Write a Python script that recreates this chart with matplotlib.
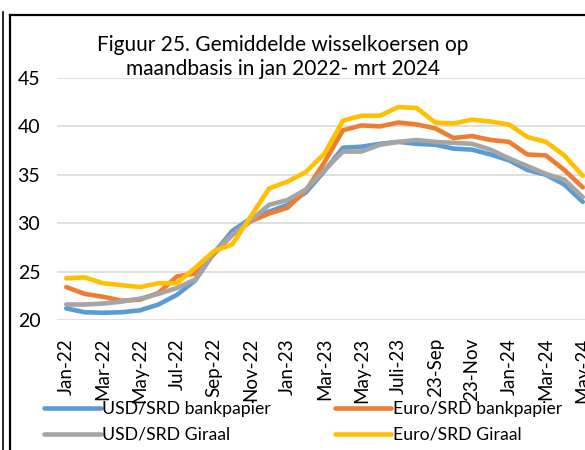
import matplotlib
matplotlib.use("Agg")
import matplotlib.pyplot as plt
from matplotlib.lines import Line2D

plt.rcParams['font.family'] = ['Lato', 'DejaVu Sans']

# maanden jan 2022 - mei 2024
months = ["Jan-22", "Feb-22", "Mar-22", "Apr-22", "May-22", "Jun-22", "Jul-22", "Aug-22",
          "Sep-22", "Oct-22", "Nov-22", "Dec-22", "Jan-23", "Feb-23", "Mar-23", "Apr-23",
          "May-23", "Jun-23", "Juli-23", "Aug-23", "23-Sep", "23-Oct", "23-Nov", "23-Dec",
          "Jan-24", "Feb-24", "Mar-24", "Apr-24", "May-24"]

usd_bank = [21.2, 20.8, 20.75, 20.8, 21.0, 21.6, 22.6, 24.1, 26.9, 29.2, 30.5, 31.2, 31.9, 33.2,
            35.4, 37.8, 37.9, 38.2, 38.4, 38.2, 38.1, 37.7, 37.6, 37.1, 36.5, 35.5, 35.0, 34.0, 32.2]
euro_bank = [23.4, 22.7, 22.4, 22.0, 22.1, 22.8, 24.5, 24.8, 26.8, 28.8, 30.2, 31.0, 31.6, 33.4,
             36.3, 39.6, 40.1, 40.0, 40.4, 40.2, 39.8, 38.8, 39.0, 38.6, 38.4, 37.1, 37.0, 35.5, 33.7]
usd_giro = [21.6, 21.6, 21.7, 21.9, 22.2, 22.7, 23.3, 24.2, 27.0, 28.8, 30.3, 31.9, 32.4, 33.5,
            35.5, 37.4, 37.4, 38.1, 38.4, 38.6, 38.4, 38.3, 38.2, 37.6, 36.7, 35.9, 35.1, 34.5, 32.7]
euro_giro = [24.3, 24.4, 23.8, 23.6, 23.4, 23.8, 23.8, 25.4, 27.1, 27.8, 30.7, 33.6, 34.3, 35.3,
             37.2, 40.6, 41.1, 41.1, 42.0, 41.9, 40.4, 40.3, 40.7, 40.5, 40.2, 38.9, 38.4, 37.0, 34.9]

W, H = 585, 450
fig = plt.figure(figsize=(W / 100, H / 100), dpi=100)

# plot area (in pixels), rechterkant valt buiten beeld
left, right, top, bottom = 57, 592, 78, 320
ax = fig.add_axes([left / W, 1 - bottom / H, (right - left) / W, (bottom - top) / H])

x = list(range(len(months)))
lw = 3.3
l1, = ax.plot(x, usd_bank, color="#5B9BD5", lw=lw, label="USD/SRD bankpapier", solid_capstyle="round")
l2, = ax.plot(x, euro_bank, color="#ED7D31", lw=lw, label="Euro/SRD bankpapier", solid_capstyle="round")
l3, = ax.plot(x, usd_giro, color="#A5A5A5", lw=lw, label="USD/SRD Giraal", solid_capstyle="round")
l4, = ax.plot(x, euro_giro, color="#FFC000", lw=lw, label="Euro/SRD Giraal", solid_capstyle="round")

ax.set_xlim(-0.5, len(months) - 0.5)
ax.set_ylim(20, 45)
ax.set_yticks([20, 25, 30, 35, 40, 45])
ax.yaxis.grid(True, color="#D9D9D9", lw=1.2)
ax.set_axisbelow(True)
for s in ax.spines.values():
    s.set_visible(False)
ax.tick_params(axis="both", length=0)
ax.tick_params(axis="y", labelsize=14, pad=12)
ax.set_xticks(x[::2])
ax.set_xticklabels(months[::2], rotation=90, fontsize=13.5)
ax.tick_params(axis="x", pad=13)

fig.text(283 / W, 1 - 57 / H, "Figuur 25. Gemiddelde wisselkoersen op\nmaandbasis in jan 2022- mrt 2024",
         ha="center", va="center", fontsize=15, linespacing=1.3)

# volgorde zodat de rijen kloppen
fig.legend([l1, l3, l2, l4], [l.get_label() for l in (l1, l3, l2, l4)],
           loc="upper left", bbox_to_anchor=(37 / W, 1 - 394 / H), ncol=2, frameon=False,
           fontsize=12.7, handlelength=3.2, handletextpad=0.1, columnspacing=3.6,
           labelspacing=0.55, borderaxespad=0)

# kaders links en boven
fig.add_artist(Line2D([3 / W, 3 / W], [0, 1 - 12 / H], color="black", lw=1.2))
fig.add_artist(Line2D([10 / W, 10 / W], [0, 1 - 15 / H], color="black", lw=1.6))
fig.add_artist(Line2D([10 / W, 1], [1 - 15 / H, 1 - 15 / H], color="black", lw=1.6))

fig.savefig("out.png", dpi=100)
